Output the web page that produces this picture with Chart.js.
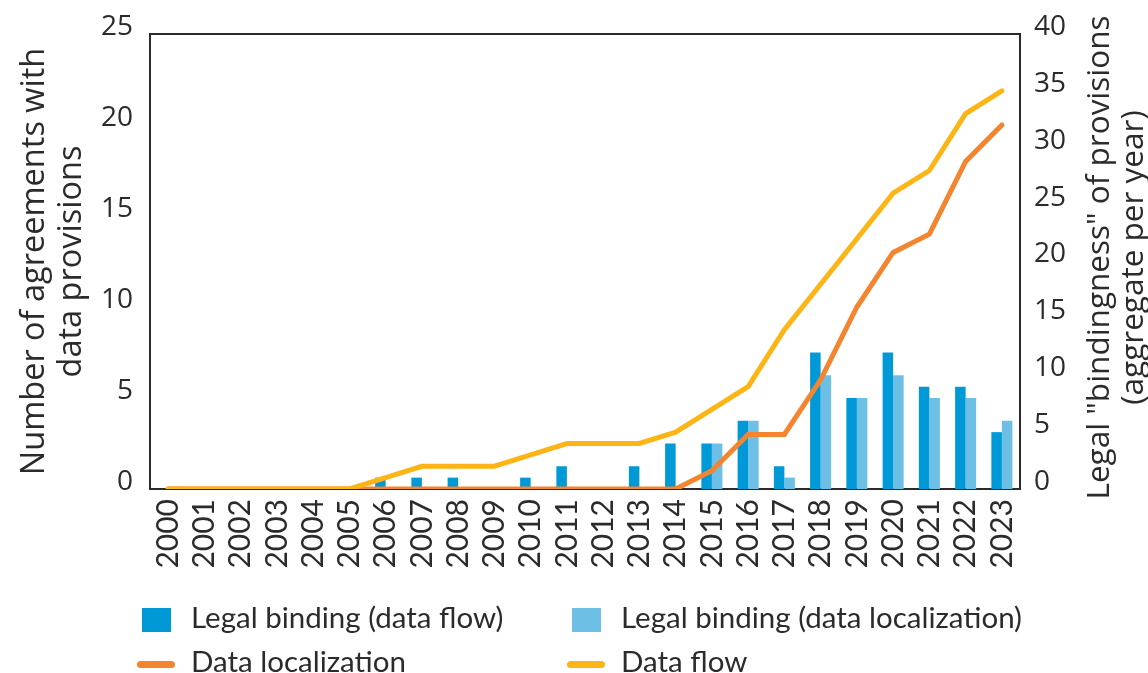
<!DOCTYPE html>
<html>
<head>
<meta charset="utf-8">
<script src="https://cdn.jsdelivr.net/npm/chart.js@4.4.1/dist/chart.umd.min.js"></script>
<style>
  html, body { margin: 0; padding: 0; background: #fff; }
  #wrap { position: relative; width: 1148px; height: 673px; overflow: hidden; }
  #myChart { position: absolute; left: 0; top: 0; }
  #legend { position: absolute; left: 0; top: 0; width: 1148px; height: 673px; pointer-events: none;
            font-family: Lato, sans-serif; font-size: 29.5px; color: #2b2b2b; }
  .item { position: absolute; height: 40px; display: flex; align-items: center; white-space: nowrap; }
  .item span { position: relative; top: -4px; }
  .slot { width: 38px; margin-right: 16px; display: flex; justify-content: center; align-items: center; }
  .box { width: 29px; height: 24px; }
  .dash { width: 38px; height: 7px; border-radius: 4px; }
</style>
</head>
<body>
<div id="wrap">
  <canvas id="myChart" width="1148" height="673"></canvas>
  <div id="legend"></div>
</div>
<script>
const years = ['2000', '2001', '2002', '2003', '2004', '2005', '2006', '2007', '2008', '2009', '2010', '2011',
               '2012', '2013', '2014', '2015', '2016', '2017', '2018', '2019', '2020', '2021', '2022', '2023'];

// bars, read against the right axis
const bindingDataFlow = [0, 0, 0, 0, 0, 0, 1, 1, 1, 0, 1, 2, 0, 2, 4, 4, 6, 2, 12, 8, 12, 9, 9, 5];
const bindingDataLocalization = [0, 0, 0, 0, 0, 0, 0, 0, 0, 0, 0, 0, 0, 0, 0, 4, 6, 1, 10, 8, 10, 8, 8, 6];

// lines
const dataLocalization = [0, 0, 0, 0, 0, 0, 0, 0, 0, 0, 0, 0, 0, 0, 0, 1, 3, 3, 6, 10, 13, 14, 18, 20]; // left axis
const dataFlow = [0, 0, 0, 0, 0, 0, 1, 2, 2, 2, 3, 4, 4, 4, 5, 7, 9, 14, 18, 22, 26, 28, 33, 35];        // right axis

const leftTicks = { min: 0, max: 25, step: 5 };
const rightTicks = { min: 0, max: 40, step: 5 };
const leftTitle = ['Number of agreements with', 'data provisions'];
const rightTitle = ['Legal "bindingness" of provisions', '(aggregate per year)'];

const textColor = '#2b2b2b';
const colDark = '#0099d8';
const colLight = '#6dbfe6';
const colOrange = '#f5842f';
const colYellow = '#fdb515';

// box around the plot area
const framePlugin = {
  id: 'frame',
  beforeDatasetsDraw(chart) {
    const { ctx, chartArea: a } = chart;
    ctx.save();
    ctx.strokeStyle = textColor;
    ctx.lineWidth = 2;
    ctx.strokeRect(a.left, a.top, a.right - a.left, a.bottom - a.top);
    ctx.restore();
  }
};

// right axis title reads bottom to top, like the left one
const rightTitlePlugin = {
  id: 'rightTitle',
  afterDraw(chart) {
    const s = chart.scales.y1;
    const ctx = chart.ctx;
    const cy = (chart.chartArea.top + chart.chartArea.bottom) / 2 - 4;
    ctx.save();
    ctx.fillStyle = textColor;
    ctx.font = '31.5px "Open Sans"';
    ctx.textAlign = 'center';
    ctx.textBaseline = 'middle';
    ctx.translate(s.right - 48, cy);
    ctx.rotate(-Math.PI / 2);
    rightTitle.forEach((t, i) => ctx.fillText(t, 0, i * 34));
    ctx.restore();
  }
};

const ctx = document.getElementById('myChart');

const chart = new Chart(ctx, {
  type: 'bar',
  data: {
    labels: years,
    datasets: [
      {
        type: 'line',
        label: 'Data flow',
        data: dataFlow,
        yAxisID: 'y1',
        borderColor: colYellow,
        backgroundColor: colYellow,
        borderWidth: 5,
        borderCapStyle: 'round',
        pointRadius: 0,
        tension: 0,
        order: 0
      },
      {
        type: 'line',
        label: 'Data localization',
        data: dataLocalization,
        yAxisID: 'y',
        borderColor: colOrange,
        backgroundColor: colOrange,
        borderWidth: 5,
        borderCapStyle: 'round',
        pointRadius: 0,
        tension: 0,
        order: 1
      },
      {
        label: 'Legal binding (data flow)',
        data: bindingDataFlow,
        yAxisID: 'y1',
        backgroundColor: colDark,
        categoryPercentage: 0.58,
        barPercentage: 1.0,
        order: 2
      },
      {
        label: 'Legal binding (data localization)',
        data: bindingDataLocalization,
        yAxisID: 'y1',
        backgroundColor: colLight,
        categoryPercentage: 0.58,
        barPercentage: 1.0,
        order: 2
      }
    ]
  },
  options: {
    responsive: false,
    animation: false,
    layout: { padding: { top: 34, bottom: 88, left: 0, right: 0 } },
    plugins: {
      legend: { display: false },
      tooltip: { enabled: false }
    },
    scales: {
      x: {
        grid: { display: false, drawTicks: false },
        border: { display: false },
        ticks: {
          color: textColor,
          font: { family: 'Lato', size: 30 },
          minRotation: 90,
          maxRotation: 90,
          autoSkip: false,
          padding: 10
        },
        afterFit: (s) => { s.height = 96; }
      },
      y: {
        position: 'left',
        min: leftTicks.min,
        max: leftTicks.max,
        grid: { display: false, drawTicks: false },
        border: { display: false },
        ticks: {
          stepSize: leftTicks.step,
          color: textColor,
          font: { family: 'Open Sans', size: 28 },
          padding: 17,
          labelOffset: -7
        },
        title: {
          display: true,
          text: leftTitle,
          color: textColor,
          font: { family: 'Open Sans', size: 32.5, lineHeight: 1.14 },
          padding: { top: 16, bottom: 0 }
        },
        afterFit: (s) => { s.width = 150; }
      },
      y1: {
        position: 'right',
        min: rightTicks.min,
        max: rightTicks.max,
        grid: { display: false, drawTicks: false },
        border: { display: false },
        ticks: {
          stepSize: rightTicks.step,
          color: textColor,
          font: { family: 'Open Sans', size: 28 },
          padding: 14,
          labelOffset: -7
        },
        afterFit: (s) => { s.width = 128; }
      }
    }
  },
  plugins: [framePlugin, rightTitlePlugin]
});

// legend in two columns, built from the datasets
const legendOrder = [2, 3, 1, 0];
const colLeft = [137, 567];
const rowCenter = [620, 664];
const legendBox = document.getElementById('legend');
legendOrder.forEach((di, k) => {
  const ds = chart.data.datasets[di];
  const item = document.createElement('div');
  item.className = 'item';
  item.style.left = colLeft[k % 2] + 'px';
  item.style.top = (rowCenter[Math.floor(k / 2)] - 20) + 'px';
  const slot = document.createElement('div');
  slot.className = 'slot';
  const mark = document.createElement('div');
  mark.className = ds.type === 'line' ? 'dash' : 'box';
  mark.style.background = ds.type === 'line' ? ds.borderColor : ds.backgroundColor;
  slot.appendChild(mark);
  const txt = document.createElement('span');
  txt.textContent = ds.label;
  item.appendChild(slot);
  item.appendChild(txt);
  legendBox.appendChild(item);
});
</script>
</body>
</html>
